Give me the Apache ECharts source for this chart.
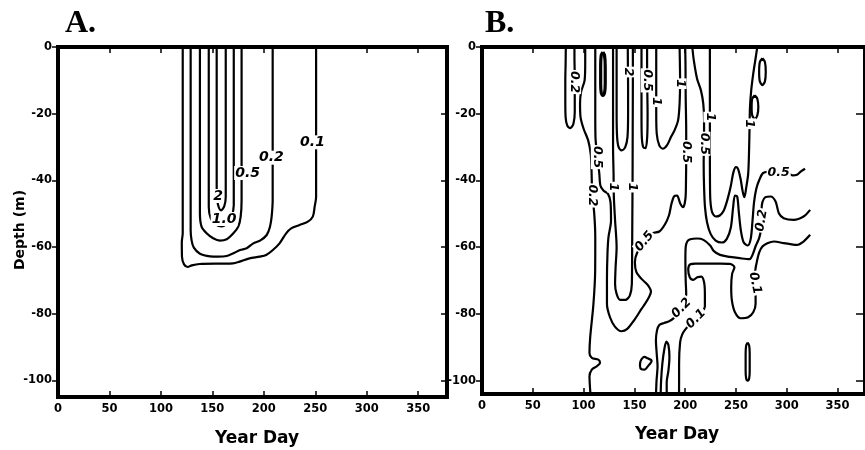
<!DOCTYPE html>
<html><head><meta charset="utf-8">
<script src="https://cdn.jsdelivr.net/npm/echarts@6/dist/echarts.min.js"></script>
<style>html,body{margin:0;padding:0;background:#fff}#c{width:865px;height:450px}</style>
</head><body><div id="c"></div>
<script>
// ---------- tick labels ----------
const xTicks = [0, 50, 100, 150, 200, 250, 300, 350];
const yTicks = [-100, -80, -60, -40, -20, 0];

// ---------- Panel A contours [day, depth] ----------
const a01 = [[121.2,0],[121.2,-30],[121.2,-55.9],[120.3,-58.5],[120.5,-63],[122.5,-65.2],[126,-66],[130,-65.5],[137.5,-65.1],[170,-64.9],[176.4,-64.4],[186,-63.4],[196,-62.9],[202.3,-62.4],[208.8,-60.9],[215.3,-58.9],[221.7,-55.9],[226.6,-54.4],[234.7,-53.4],[242.8,-52.4],[247.6,-50.9],[249.4,-47.9],[250.8,-45],[250.8,-20],[250.8,0]];
const a02 = [[128.9,0],[128.9,-30],[128.9,-55],[129.8,-58],[132,-60.2],[137.9,-62],[147.7,-62.8],[155.8,-62.9],[163.9,-62.7],[170.4,-61.9],[176.9,-60.9],[183.3,-60.4],[189.8,-58.9],[196.3,-58.1],[202.8,-56.4],[206,-53.9],[207.6,-50.9],[208.6,-45.9],[208.6,-20],[208.6,0]];
const a05 = [[137.9,0],[137.9,-30],[137.9,-49.9],[139.5,-53.9],[144.4,-55.9],[150.8,-57.4],[157.3,-58.1],[163.9,-57.7],[170.4,-55.9],[175.2,-53.9],[177.5,-50.9],[178.4,-45.9],[178.4,-20],[178.4,0]];
const a10 = [[146.5,0],[146.5,-30],[146.5,-47.9],[148.5,-51.5],[153.5,-53.3],[159,-53.8],[164,-53],[168.5,-51],[170.8,-47.5],[170.8,-20],[170.8,0]];
const a2  = [[154.2,0],[154.2,-30],[154.2,-44],[155.5,-47.3],[158.5,-49],[161.5,-47.8],[163,-45],[163,-20],[163,0]];
const labelsA = [["0.1",247.3,-28.6,0],["0.2",207.4,-33.2,0],["0.5",184.2,-37.8,0],["2",155.6,-44.7,0],["1.0",161.4,-51.6,0]];

// ---------- Panel B contours [day, depth] ----------
const b02Small = [[82.5,0],[82.3,-5],[82,-10],[82,-16],[82.3,-21],[84,-23.6],[87,-24.3],[90,-23],[91.3,-19.5],[91.3,-14],[91.2,-7],[91,-3],[91,0]];
const b02Left = [[101.6,0],[101.6,-5],[101,-10],[97.5,-13.5],[96.5,-17],[97,-21],[100,-24.5],[104.5,-28],[107,-32],[107.8,-37],[108.5,-44],[110.5,-50],[111.5,-57],[111.4,-67],[109.7,-77],[106.5,-87],[105.8,-91.7],[108.1,-93.2],[114.6,-93.7],[116.2,-94.7],[112.9,-95.7],[108.1,-96.7],[105.8,-98.7],[106.5,-103],[107,-105]];
const bBlob = [[119,-1.5],[120.6,-2.5],[121.3,-6],[121.3,-11],[120.6,-13.8],[119,-14.5],[117.4,-13.8],[116.8,-11],[116.8,-6],[117.4,-2.5],[119,-1.5]];
const b05Main = [[111.5,0],[111.5,-10],[111.5,-20],[111.7,-27],[113.5,-33],[115.5,-38],[116.5,-41.5],[119.5,-43],[124,-44],[126.5,-46.5],[127,-52],[124.5,-57],[123.5,-62],[123,-70],[123,-77],[126,-81],[130.8,-83.8],[137.2,-85.2],[143,-84.5],[150.2,-81.7],[157,-78.5],[163.1,-75.7],[166.3,-73.3],[163.1,-71.3],[157,-69.5],[152,-67.5],[150.5,-64.5],[152.5,-61.8],[159.9,-58.3],[168,-55.8],[174.5,-55.3],[180,-53.2],[184,-50.5],[186.5,-47],[189,-44.8],[192,-44.5],[195,-46.8],[198,-48],[200.3,-45.3],[200.8,-40],[201,-33],[201,-25],[200.5,-15],[200.3,-5],[200,0]];
const b1U = [[129,0],[129,-10],[129,-20],[129,-30],[129.5,-38],[129.8,-45],[131,-52],[132.5,-60],[131.5,-66],[131,-71],[132.5,-74],[136,-75.8],[141,-75.8],[145.5,-74.5],[147.5,-71],[147.8,-60],[148,-50],[148.2,-40],[148.3,-30],[148.4,-20],[148.5,-10],[148.5,0]];
const b2U = [[132.5,0],[132.5,-10],[132.5,-20],[133,-27],[134.5,-30],[137.5,-31],[141,-30],[143.2,-27],[143.8,-20],[143.8,-12],[143.6,-5],[143.5,0]];
const b05U = [[157,0],[157,-10],[157,-20],[157.3,-27],[158.7,-30],[161,-30.3],[162.6,-27],[163,-20],[162.8,-15],[162.5,-5],[162.5,0]];
const b1U2 = [[171.5,0],[171.5,-10],[171.5,-20],[172,-26],[174.5,-29.5],[178,-30.5],[182,-29.5],[186,-27],[189.5,-25],[193,-22],[194.5,-17],[195,-10],[194.8,-5],[194.5,0]];
const b05Right = [[207,0],[208.5,-4],[211.7,-9.5],[215.5,-13],[217.8,-17],[218.6,-22],[218.5,-29],[218.2,-35],[218.6,-42],[219.5,-48],[221.5,-52.5],[225,-56],[230,-58],[236,-58.6],[241,-57.5],[245,-54],[247.2,-48],[249,-44.5],[251.2,-44.8],[252.8,-49.5],[254.8,-55],[257.5,-58.5],[261.5,-59.5],[264.5,-57.5],[266.3,-52],[267.8,-46.5],[270,-42.5],[273,-39.8],[276.5,-37.8],[281,-37.4],[291,-37.8],[301,-37.8],[306,-38.5],[310,-38.3],[314,-37.3],[318,-36.5]];
const b1W = [[271,0],[269.5,-3],[267,-8],[265,-13],[263.8,-18],[263.3,-25],[262.8,-32],[262,-38],[260,-42.3],[258.3,-45],[256.6,-43.3],[254.5,-39.5],[252,-36.5],[250,-36],[247.5,-37.5],[245,-41.5],[242,-45.3],[238,-49],[234,-50.5],[230,-50.8],[226.5,-49.5],[224.8,-46],[224.4,-40],[224.3,-30],[224.3,-20],[224.3,-10],[224.3,0]];
const b02Right = [[323,-48.8],[316.5,-50.8],[306.8,-51.8],[297,-51.3],[292.2,-49.8],[289,-46.3],[284.1,-44.8],[279,-45],[276,-46.5],[275.2,-49],[275.5,-52],[274.5,-55],[272.8,-57.3],[269.6,-59.5],[266.3,-62.3],[263.4,-63.6],[253.7,-63.3],[244,-62.9],[234.3,-62.3],[228,-61.1],[224.6,-59.5],[218,-57.8],[211.7,-57.4],[205,-57.6],[202,-58.3],[200.5,-60],[200.2,-64],[200.5,-70],[201,-74],[198.5,-77],[194,-79.5],[189,-81.2],[184.2,-82.2],[179.3,-82.7],[174.5,-83.3],[172.2,-85],[171.2,-88],[172,-92],[172.8,-95.7],[171.8,-100],[171.2,-105]];
const b01Right = [[323,-56.3],[316.5,-58.3],[310,-59.3],[303.6,-59.1],[297,-58.8],[287.4,-58.3],[280.9,-58.8],[276,-59.8],[272.8,-61.6],[270.8,-64],[269.2,-66.5],[268.5,-70.8],[269.3,-74],[269.3,-77],[267,-79.5],[262,-81],[254.6,-81.3],[249,-79.5],[246,-76],[245.3,-72],[246.2,-68],[248.5,-66],[244,-65],[235,-64.9],[222,-64.9],[210,-64.9],[205,-65.1],[203,-66.7],[204.5,-69],[208,-69.8],[212,-69],[216,-68.8],[218.6,-70.5],[219.4,-74],[219.4,-77.7],[216,-79.8],[210.7,-81.5],[205,-83],[200,-84.7],[197,-86.2],[195,-88.5],[194,-95],[194,-100],[193.9,-105]];
const bTeardrop = [[158,-93.2],[156,-94.2],[155.5,-95.5],[157,-96.6],[160,-96.7],[163,-95.8],[167,-94],[163,-93.3],[160,-92.9],[158,-93.2]];
const bLens = [[175.8,-105],[176.3,-100],[177.5,-95],[179.5,-90.5],[181.5,-88.3],[183.5,-89.3],[184.5,-93],[183.5,-97],[181.8,-100.5],[181.8,-103],[183,-105]];
const bOvalBottom = [[261.5,-88.6],[263,-89.5],[263.5,-92],[263.5,-97],[263,-99.3],[261.5,-100],[260,-99.3],[259.5,-97],[259.5,-92],[260,-89.5],[261.5,-88.6]];
const bOvalTop = [[276,-3.4],[278.5,-4.5],[279.3,-7.4],[278.5,-10.3],[276,-11.4],[273.5,-10.3],[272.8,-7.4],[273.5,-4.5],[276,-3.4]];
const bOvalSmall = [[268.5,-14.5],[271,-15.5],[272,-18],[271,-20.5],[268.5,-21.5],[266,-20.5],[265.4,-18],[266,-15.5],[268.5,-14.5]];
const labelsB = [["0.2",91.2,-10.5,-90],["0.2",108.8,-44.5,-90],["0.5",113.5,-33,-90],["1",129.5,-42,-90],["1",148.2,-42,-90],["2",143.6,-7.5,-90],["0.5",162.6,-10,-90],["1",171.5,-16.4,-90],["1",195,-11,-90],["0.5",201,-31.5,-90],["0.5",218.5,-29,-90],["1",224.3,-21,-90],["1",263.4,-23,-90],["0.5",160,-58.3,50],["0.5",292,-37.8,0],["0.2",275.3,-52,80],["0.1",268.6,-70.8,-78],["0.2",196.5,-78.3,45],["0.1",210.7,-81.5,45]];

const contoursA = [a01, a02, a05, a10, a2];
const contoursB = [b02Small, b02Left, b05Main, b1U, b2U, b05U, b1U2, b05Right, b1W, b02Right, b01Right, bTeardrop, bLens, bOvalBottom, bOvalTop, bOvalSmall];
const thickB = [bBlob];

const FONT = 'DejaVu Sans';
const tickLabel = {color:'#000', fontFamily:FONT, fontWeight:'bold', fontSize:11.5};

function xAxes(g, xmax) {
  const line = {show:true, onZero:false, lineStyle:{color:'#000', width:4, cap:'square'}};
  return [
    {type:'value', gridIndex:g, min:0, max:xmax, position:'bottom', axisLine:line,
     axisTick:{show:true, inside:true, length:6, lineStyle:{color:'#000', width:1.5}, customValues:xTicks},
     axisLabel:Object.assign({show:true, margin:6, customValues:xTicks}, tickLabel), splitLine:{show:false}},
    {type:'value', gridIndex:g, min:0, max:xmax, position:'top', axisLine:line,
     axisTick:{show:true, inside:true, length:6, lineStyle:{color:'#000', width:1.5}, customValues:xTicks},
     axisLabel:{show:false}, splitLine:{show:false}}
  ];
}
function yAxes(g, ymin, rightLen) {
  const line = {show:true, onZero:false, lineStyle:{color:'#000', width:4, cap:'square'}};
  return [
    {type:'value', gridIndex:g, min:ymin, max:0, position:'left', axisLine:line,
     axisTick:{show:true, inside:false, length:6, lineStyle:{color:'#000', width:1.5}, customValues:yTicks},
     axisLabel:Object.assign({show:true, margin:6, customValues:yTicks}, tickLabel), splitLine:{show:false}},
    {type:'value', gridIndex:g, min:ymin, max:0, position:'right', axisLine:line,
     axisTick:{show:true, inside:true, length:rightLen, lineStyle:{color:'#000', width:1.5}, customValues:yTicks},
     axisLabel:{show:false}, splitLine:{show:false}}
  ];
}
function lineSeries(data, xi, yi, w) {
  return {type:'line', xAxisIndex:xi, yAxisIndex:yi, data:data, showSymbol:false, symbol:'none',
    smooth:0.3, lineStyle:{color:'#000', width:w, opacity:1}, silent:true, z:3};
}
function labelSeries(list, xi, yi, size) {
  return {type:'scatter', xAxisIndex:xi, yAxisIndex:yi, symbolSize:0, silent:true, z:10,
    itemStyle:{opacity:1, color:'#000'},
    emphasis:{disabled:true},
    data:list.map(l => ({value:[l[1], l[2]], name:l[0], label:{rotate:l[3]}})),
    label:{show:true, position:'inside', formatter:'{b}', color:'#000', opacity:1, backgroundColor:'#fff',
      padding:[0,1], fontFamily:FONT, fontWeight:'bold', fontStyle:'italic', fontSize:size}};
}

const series = [];
contoursA.forEach(c => series.push(lineSeries(c, 0, 0, 2.2)));
series.push(labelSeries(labelsA, 0, 0, 14));
contoursB.forEach(c => series.push(lineSeries(c, 2, 2, 2.2)));
thickB.forEach(c => series.push(lineSeries(c, 2, 2, 3.2)));
series.push(labelSeries(labelsB, 2, 2, 12.5));

const option = {
  animation:false,
  backgroundColor:'#fff',
  grid:[
    {left:58, top:47, width:389, height:350},
    {left:482, top:47, width:389, height:347}
  ],
  xAxis:[...xAxes(0, 378), ...xAxes(1, 377)],
  yAxis:[...yAxes(0, -105, 6), ...yAxes(1, -104, 9)],
  series:series,
  graphic:[
    {type:'text', x:65, y:24, style:{text:'A.', font:'bold 32px "Liberation Serif"', fill:'#000', textVerticalAlign:'middle', verticalAlign:'middle'}},
    {type:'text', x:485, y:24, style:{text:'B.', font:'bold 32px "Liberation Serif"', fill:'#000', textVerticalAlign:'middle', verticalAlign:'middle'}},
    {type:'text', x:20, y:230, rotation:Math.PI/2, style:{text:'Depth (m)', font:'bold 14px "DejaVu Sans"', fill:'#000', textAlign:'center', align:'center', textVerticalAlign:'middle', verticalAlign:'middle'}},
    {type:'text', x:257, y:439, style:{text:'Year Day', font:'bold 17px "DejaVu Sans"', fill:'#000', textAlign:'center', align:'center', textVerticalAlign:'middle', verticalAlign:'middle'}},
    {type:'text', x:677, y:435, style:{text:'Year Day', font:'bold 17px "DejaVu Sans"', fill:'#000', textAlign:'center', align:'center', textVerticalAlign:'middle', verticalAlign:'middle'}}
  ]
};
const chart = echarts.init(document.getElementById('c'), null, {renderer:'canvas'});
chart.setOption(option);
</script>
</body></html>
